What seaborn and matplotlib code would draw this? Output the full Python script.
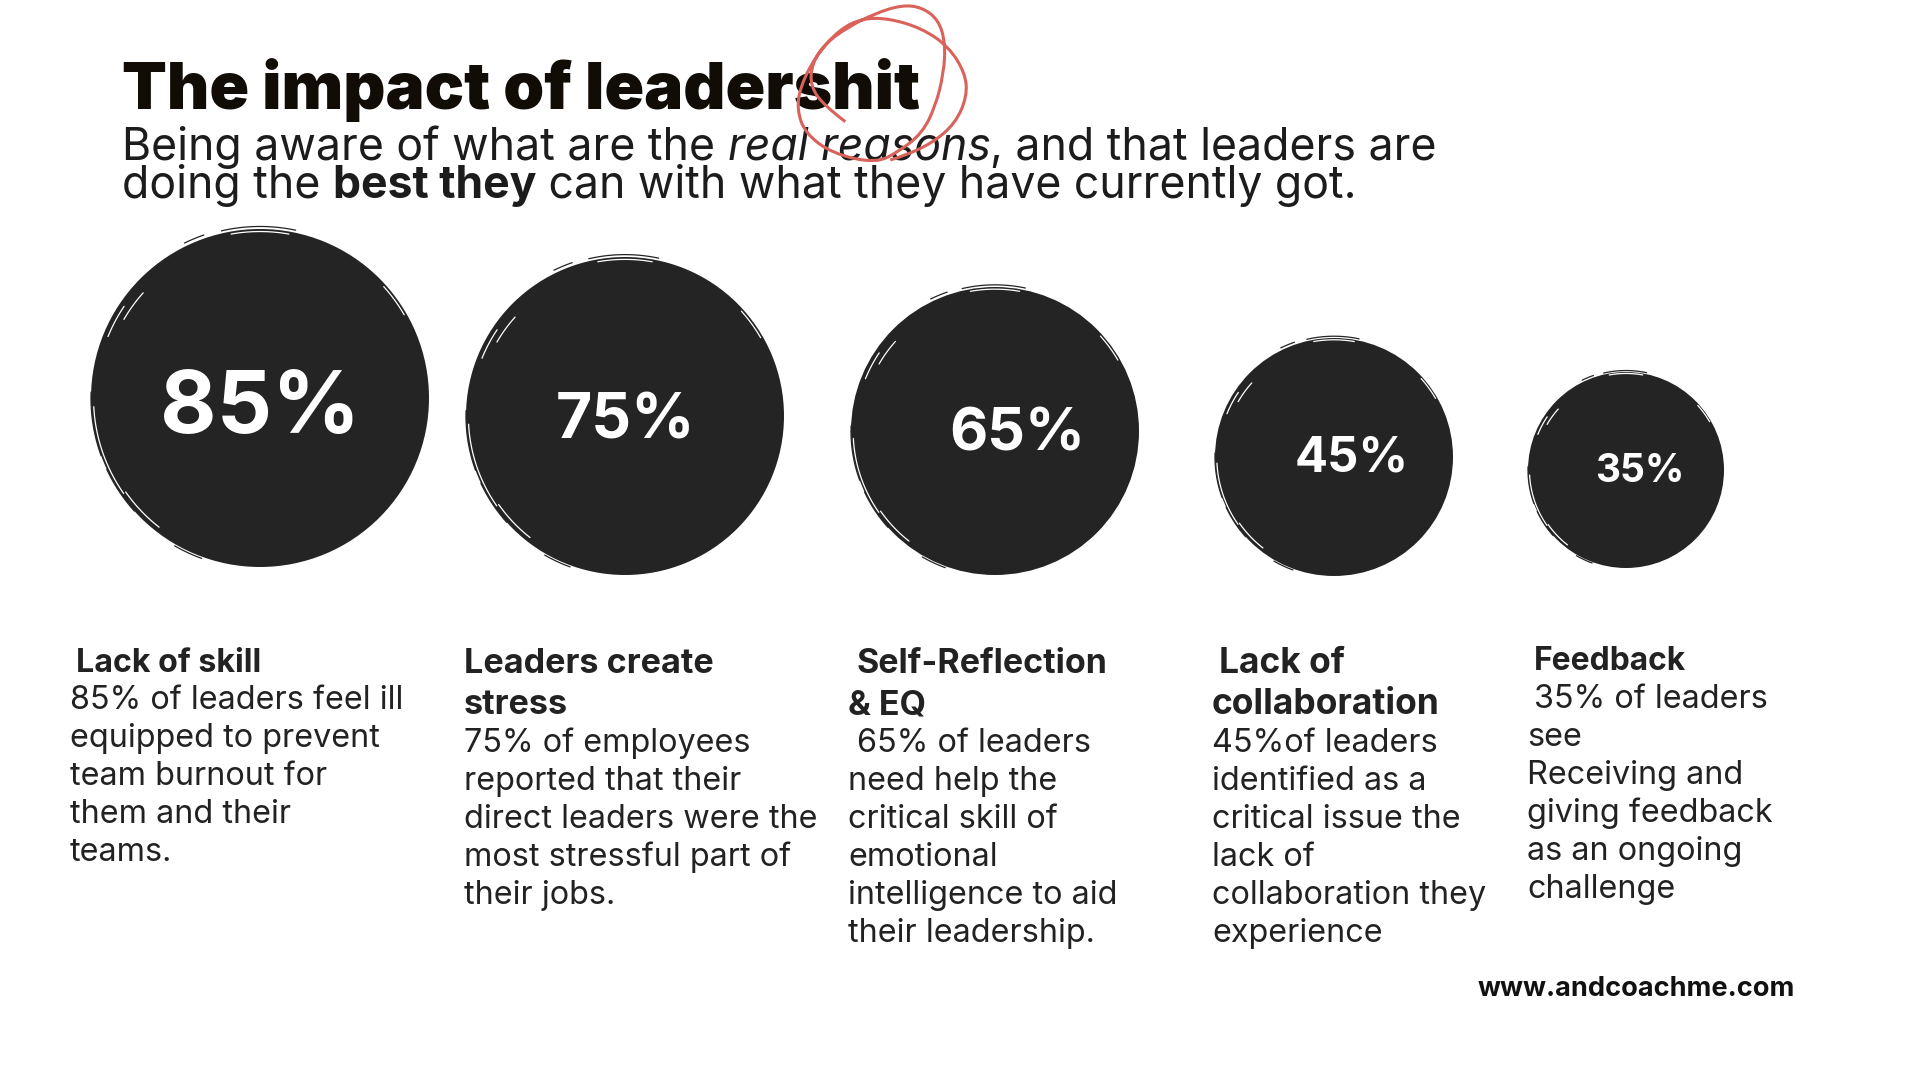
import numpy as np
import pandas as pd
import matplotlib
matplotlib.use("Agg")
import matplotlib.pyplot as plt
import seaborn as sns
from matplotlib.path import Path
from matplotlib.patches import PathPatch

# --- Data ---

PERCENT = [85, 75, 65, 45, 35]
PERCENT_LABELS = ["85%", "75%", "65%", "45%", "35%"]
HEADINGS = [
    ["Lack of skill"],
    ["Leaders create", "stress"],
    ["Self-Reflection", "& EQ"],
    ["Lack of", "collaboration"],
    ["Feedback"],
]
BODIES = [
    ["85% of leaders feel ill", "equipped to prevent", "team burnout for", "them and their", "teams."],
    ["75% of employees", "reported that their", "direct leaders were the", "most stressful part of", "their jobs."],
    ["65% of leaders", "need help the", "critical skill of", "emotional", "intelligence to aid", "their leadership."],
    ["45%of leaders", "identified as a", "critical issue the", "lack of", "collaboration they", "experience"],
    ["35% of leaders", "see", "Receiving and", "giving feedback", "as an ongoing", "challenge"],
]
TITLE = "The impact of leadershit"
SUB_LINE1 = [("Being aware of what are the ", "normal", "normal"), ("real reasons", "normal", "italic"),
             (", and that leaders are", "normal", "normal")]
SUB_LINE2 = [("doing the ", "normal", "normal"), ("best they", "bold", "normal"),
             (" can with what they have currently got.", "normal", "normal")]
URL = "www.andcoachme.com"

# --- Layout (pixels of the 1920x1080 canvas) ---

CENTER_X = [260, 625, 995, 1334, 1626]
CENTER_Y = [398, 416, 431, 457, 470]
RADIUS = [169, 159, 144, 119, 98]
LABEL_X = [260, 625, 1017, 1352, 1640]
LABEL_Y = [410, 422, 435, 458, 471]
LABEL_SIZE = [62.5, 45, 42.5, 35.2, 28]
COL_X = [70, 464, 848, 1212, 1527]
HEAD_INDENT = [6, 0, 9, 7, 7]
BODY_INDENT = [0, 0, 9, 0, 7]
HEAD_SIZE = [23.2, 24.6, 24.5, 25.5, 22.9]
HEAD_Y = [[672], [673, 714], [673, 714], [673, 714], [670]]
BODY_Y0 = [709, 752, 752, 752, 708]
LINE_H = 38

# scribble around the end of the title
SCRIBBLE = np.array([
    (190, 365), (130, 320), (85, 260), (90, 190), (130, 130), (200, 80), (280, 40), (360, 15),
    (420, 22), (470, 60), (490, 130), (485, 220), (460, 320), (420, 400), (350, 455), (280, 490),
    (150, 460), (70, 400), (45, 330), (55, 260), (100, 170), (170, 90), (240, 55), (320, 55),
    (420, 85), (500, 140), (550, 220), (555, 290), (520, 370), (450, 430), (360, 470), (290, 490),
]) / 3.0 + np.array([782, 0])

# brush marks on the bubble edges: radius factor, start and end angle, colour
BRUSH = [
    (1.015, 78, 103, "#242424"), (0.985, 80, 100, "white"), (1.02, 109, 116, "#242424"),
    (0.93, 138, 150, "white"), (0.97, 146, 158, "white"), (1.0, 178, 200, "#242424"),
    (0.985, 183, 215, "white"), (1.0, 205, 222, "#242424"), (0.97, 215, 232, "white"),
    (1.01, 240, 250, "#242424"), (0.985, 30, 42, "white"),
]

sns.set_theme(style="white")
plt.rcParams["font.family"] = ["Inter", "DejaVu Sans"]

df = pd.DataFrame({"pct": PERCENT, "x": CENTER_X, "y": CENTER_Y})
# marker area in points^2 for a radius given in pixels at dpi 100
sizes = {p: (2 * r * 0.72) ** 2 for p, r in zip(PERCENT, RADIUS)}

fig, ax = plt.subplots(figsize=(19.2, 10.8), dpi=100)
ax.set_position([0, 0, 1, 1])

sns.scatterplot(data=df, x="x", y="y", size="pct", sizes=sizes, color="#242424",
                linewidth=0, legend=False, ax=ax, zorder=2)
ax.set_xlim(0, 1920)
ax.set_ylim(1080, 0)
ax.axis("off")

for cx, cy, r in zip(CENTER_X, CENTER_Y, RADIUS):
    for k, a0, a1, col in BRUSH:
        t = np.radians(np.linspace(a0, a1, 30))
        ax.plot(cx + k * r * np.cos(t), cy - k * r * np.sin(t), color=col, lw=0.9, zorder=3,
                solid_capstyle="round")


def draw_runs(x, y, runs, size, color="#1c1c1c"):
    # place text pieces one after another on one baseline
    renderer = fig.canvas.get_renderer()
    for text, weight, style in runs:
        # trailing spaces are not measured, so measure with a stop character
        ax.text(x, y, text, fontsize=size, fontweight=weight, fontstyle=style, color=color,
                va="baseline", ha="left", zorder=5)
        probe = ax.text(0, 0, text + ".", fontsize=size, fontweight=weight, fontstyle=style)
        dot = ax.text(0, 0, ".", fontsize=size, fontweight=weight, fontstyle=style)
        x += probe.get_window_extent(renderer).width - dot.get_window_extent(renderer).width
        probe.remove()
        dot.remove()


ax.text(122, 109, TITLE, fontsize=47.2, fontweight=900, color="#120c06", va="baseline", zorder=5)
draw_runs(122, 160, SUB_LINE1, 32.1)
draw_runs(122, 198, SUB_LINE2, 32.1)

for i, label in enumerate(PERCENT_LABELS):
    ax.text(LABEL_X[i], LABEL_Y[i], label, fontsize=LABEL_SIZE[i], fontweight="bold", color="white",
            ha="center", va="center", zorder=5)

    for j, line in enumerate(HEADINGS[i]):
        indent = HEAD_INDENT[i] if j == 0 else 0
        ax.text(COL_X[i] + indent, HEAD_Y[i][j], line, fontsize=HEAD_SIZE[i], fontweight="bold",
                color="#222222", va="baseline", zorder=5)
    for j, line in enumerate(BODIES[i]):
        indent = BODY_INDENT[i] if j == 0 else 0
        ax.text(COL_X[i] + indent, BODY_Y0[i] + j * LINE_H, line, fontsize=23.3,
                color="#222222", va="baseline", zorder=5)

ax.text(1478, 996, URL, fontsize=19.5, fontweight="bold", color="#111111", va="baseline", zorder=5)

# smooth the traced scribble with quadratic curves through the midpoints
mids = (SCRIBBLE[:-1] + SCRIBBLE[1:]) / 2
verts = [SCRIBBLE[0]]
codes = [Path.MOVETO]
for p, m in zip(SCRIBBLE[1:-1], mids[1:]):
    verts += [p, m]
    codes += [Path.CURVE3, Path.CURVE3]
ax.add_patch(PathPatch(Path(verts, codes), fill=False, edgecolor="#d9635a", lw=2.2, zorder=6))

fig.savefig("out.png", dpi=100)
plt.close(fig)
